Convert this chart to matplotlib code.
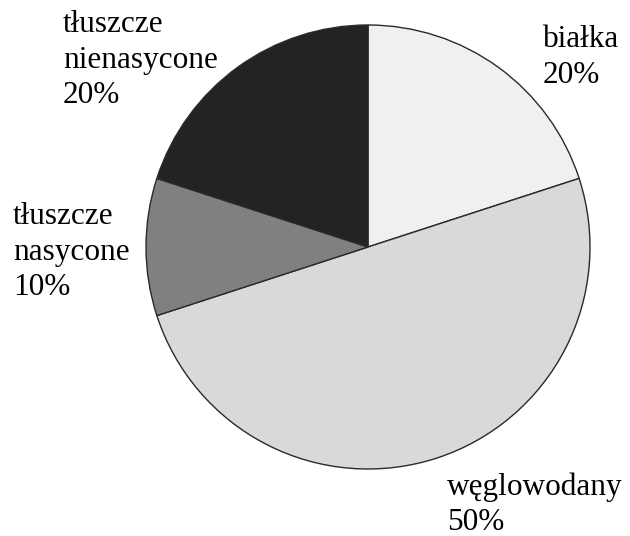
import matplotlib
matplotlib.use('Agg')
import matplotlib.pyplot as plt

labels = ['białka', 'węglowodany', 'tłuszcze\nnasycone', 'tłuszcze\nnienasycone']
shares = [20, 50, 10, 20]
colors = ['#f0f0f0', '#d9d9d9', '#808080', '#232323']

# label anchor (left, top) in pixel coords of the 630x536 picture
label_pos = [(543, 25), (447, 472), (13, 202), (63, 10)]

W, H = 630, 536
fig = plt.figure(figsize=(W / 100, H / 100), dpi=100)
ax = fig.add_axes([0, 0, 1, 1])

ax.pie(shares, colors=colors, startangle=90, counterclock=False,
       center=(368, H - 247), radius=222,
       wedgeprops=dict(edgecolor='#2a2a2a', linewidth=1.0))

for lab, val, (x, y) in zip(labels, shares, label_pos):
    ax.text(x, H - y, f'{lab}\n{val}%', ha='left', va='top',
            fontsize=22.5, family='Liberation Serif', linespacing=1.3)

ax.set_xlim(0, W)
ax.set_ylim(0, H)
ax.set_aspect('equal')
ax.axis('off')

fig.savefig('out.png', dpi=100)
